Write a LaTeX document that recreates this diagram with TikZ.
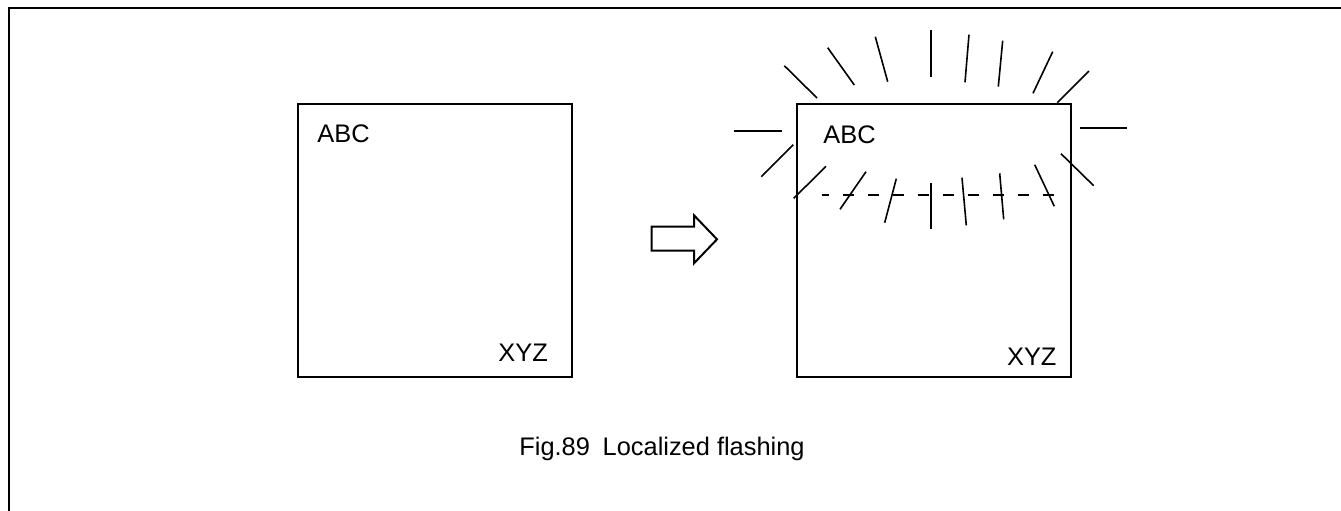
\documentclass[tikz,border=0pt]{standalone}
\usepackage{fontspec}
\setmainfont{Liberation Sans}
\begin{document}
\begin{tikzpicture}[x=0.5pt,y=-0.5pt,
  screen/.style={rectangle,draw,line width=1pt,inner sep=0pt,
                 minimum width=137pt,minimum height=136.5pt},
  lbl/.style={font=\fontsize{12.7}{15}\selectfont,inner sep=0pt,anchor=base west},
  ray/.style={line width=0.8pt},
]
  \clip (0,0) rectangle (1341,510);
  \draw[line width=1pt] (9,600) -- (9,7.5) -- (1400,7.5);

  \node[screen] (before) at (435.2,240) {};
  \node[lbl] (abcB) at (317,142.7) {ABC};
  \node[lbl] (xyzB) at (498,361.7) {XYZ};

  \draw[line width=1pt] (651.7,226.7) -- (694,226.7) -- (694,215.3)
    -- (717,239.3) -- (694,263.3) -- (694,250.5) -- (651.7,250.5) -- cycle;

  \node[screen] (after) at (934,240) {};
  \node[lbl] (abcA) at (823,143) {ABC};
  \node[lbl] (xyzA) at (1006.7,365) {XYZ};

  \coordinate (dashS) at (821.7,194.7);
  \coordinate (dashE) at (1055,194.7);
  \draw[line width=0.9pt,dash pattern=on 5.5pt off 7pt,dash phase=2pt] (dashS) -- (dashE);

  \foreach \xa/\ya/\xb/\yb in {
      784.3/65.7/817/98, 827.7/47.7/854.3/85, 875.3/36.7/887.7/81.7,
      930.7/30/930.7/77.3, 969/34.7/965/82.3, 1002.7/40.7/998.3/86.7,
      1052.7/51.7/1033/93.3, 1089/71/1057.3/102.7,
      734/130.7/781.7/130.7, 1080.3/127.7/1126.7/127.7,
      793.3/144.7/761.3/176.7, 1061/153.7/1093.7/185.7,
      826/166.3/793.7/198.3, 866/171.7/840/209.3, 896.3/178.7/884.7/222.7,
      930.7/183.3/930.7/229.3, 962/177.7/966.3/225.3, 999.7/173.3/1003.7/219.3,
      1034.7/164.7/1054.3/206.3}
    \draw[ray] (\xa,\ya) -- (\xb,\yb);

  \node[lbl] (caption) at (519,455) {Fig.89\enspace Localized flashing};
\end{tikzpicture}
\end{document}
